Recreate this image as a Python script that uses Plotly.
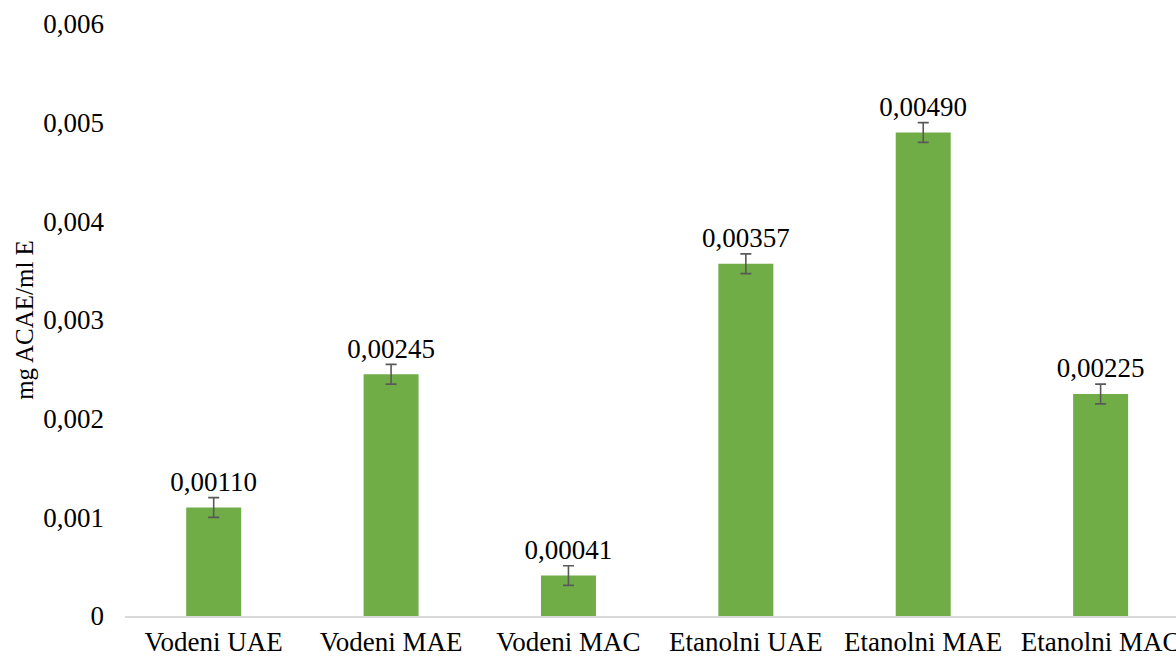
import plotly.graph_objects as go

categories = ["Vodeni UAE", "Vodeni MAE", "Vodeni MAC",
              "Etanolni UAE", "Etanolni MAE", "Etanolni MAC"]
values = [0.00110, 0.00245, 0.00041, 0.00357, 0.00490, 0.00225]
errors = [0.00010, 0.00010, 0.00010, 0.00010, 0.00010, 0.00010]
y_tickvals = [0, 0.001, 0.002, 0.003, 0.004, 0.005, 0.006]
y_ticktext = ["0", "0,001", "0,002", "0,003", "0,004", "0,005", "0,006"]

FONT = "Liberation Serif, Times New Roman, serif"
label_text = [f"{v:.5f}".replace(".", ",") for v in values]
label_y = [v + e for v, e in zip(values, errors)]

fig = go.Figure()
fig.add_trace(go.Bar(
    x=categories, y=values,
    marker=dict(color="#70AD47", line=dict(width=0)),
    width=0.31,
    error_y=dict(type="data", array=errors, visible=True,
                 color="#595959", thickness=1.6, width=5.5),
    hoverinfo="skip",
))
fig.add_trace(go.Scatter(
    x=categories, y=label_y, mode="text",
    text=label_text, textposition="top center",
    textfont=dict(family=FONT, size=27, color="#000000"),
    hoverinfo="skip", cliponaxis=False,
))

fig.update_layout(
    width=1176, height=657,
    margin=dict(l=125, r=0, t=24, b=41),
    paper_bgcolor="white", plot_bgcolor="white",
    showlegend=False,
    font=dict(family=FONT, size=27, color="#000000"),
    xaxis=dict(
        range=[-0.5, 5.425], automargin=False,
        showline=True, linecolor="#D9D9D9", linewidth=1.5,
        showgrid=False, ticks="", ticklabelstandoff=1,
        tickfont=dict(family=FONT, size=27),
    ),
    yaxis=dict(
        range=[0, 0.006], automargin=False,
        tickvals=y_tickvals, ticktext=y_ticktext,
        showgrid=False, zeroline=False, showline=False,
        ticks="", ticklabelstandoff=20,
        tickfont=dict(family=FONT, size=27),
        title=dict(text="mg ACAE/ml E", font=dict(family=FONT, size=25),
                   standoff=2),
    ),
)

fig.write_html("out.html")
